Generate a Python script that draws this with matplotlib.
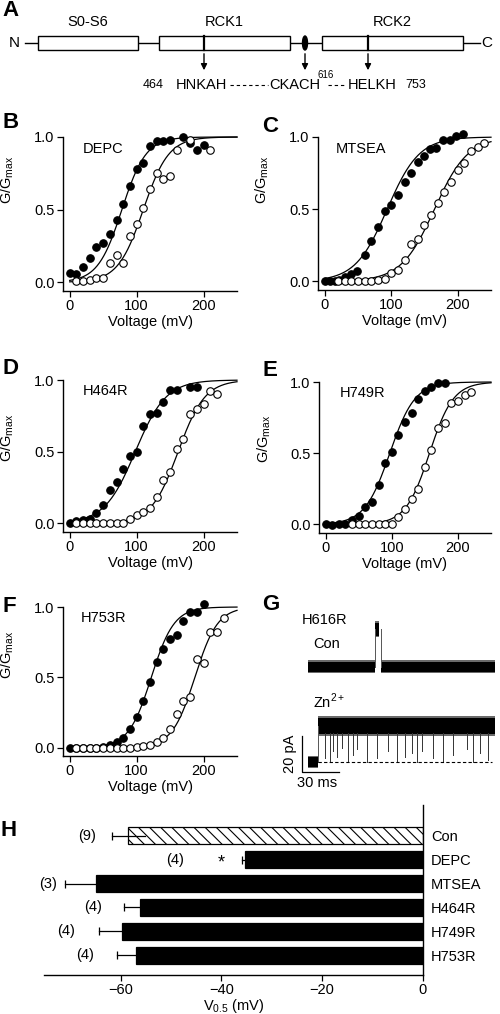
import matplotlib
matplotlib.use("Agg")
import matplotlib.pyplot as plt
import numpy as np
from matplotlib.patches import Rectangle, Ellipse

plt.rcParams['font.family'] = ['Liberation Sans', 'DejaVu Sans']
plt.rcParams['hatch.linewidth'] = 0.8
plt.rcParams['mathtext.fontset'] = 'custom'
plt.rcParams['mathtext.rm'] = 'Liberation Sans'

W, H = 500, 1014

# ---- panel A : domain schematic ----
dom_names = ['S0-S6', 'RCK1', 'RCK2']
dom_start = [38, 159, 322]
dom_end = [138, 290, 463]
site_x = [204, 305, 368]

# ---- panels B-F : G/Gmax vs voltage (filled / open circles) ----
b_v_fill = [0, 10, 20, 30, 40, 50, 60, 70, 80, 90, 100, 110, 120, 130, 140, 150, 170, 180, 190, 200]
b_g_fill = [0.064, 0.06, 0.105, 0.17, 0.245, 0.27, 0.33, 0.43, 0.54, 0.66, 0.78, 0.82, 0.94, 0.97, 0.97, 0.98, 1.00, 0.96, 0.91, 0.945]
b_v_open = [10, 20, 30, 40, 50, 60, 70, 80, 90, 100, 110, 120, 130, 140, 150, 160, 180, 210]
b_g_open = [0.007, 0.007, 0.014, 0.03, 0.03, 0.13, 0.19, 0.13, 0.32, 0.40, 0.51, 0.64, 0.75, 0.71, 0.73, 0.91, 0.98, 0.91]

c_v_fill = [0, 8, 16, 22, 30, 40, 48, 60, 70, 80, 90, 100, 110, 120, 130, 140, 150, 158, 168, 178, 188, 198, 208]
c_g_fill = [0, 0, 0.005, 0.01, 0.03, 0.05, 0.07, 0.18, 0.28, 0.377, 0.49, 0.53, 0.60, 0.69, 0.75, 0.83, 0.87, 0.92, 0.925, 0.98, 0.98, 1.01, 1.02]
c_v_open = [20, 30, 40, 50, 60, 70, 80, 90, 100, 110, 120, 130, 140, 150, 160, 170, 180, 190, 200, 210, 220, 230, 240]
c_g_open = [0, 0, 0, 0.005, 0.005, 0.005, 0.01, 0.015, 0.06, 0.08, 0.15, 0.26, 0.29, 0.39, 0.46, 0.54, 0.62, 0.69, 0.77, 0.82, 0.90, 0.93, 0.96]

d_v_fill = [0, 10, 20, 30, 40, 50, 60, 70, 80, 90, 100, 110, 120, 130, 140, 150, 160, 180, 190]
d_g_fill = [0, 0.016, 0.023, 0.03, 0.074, 0.125, 0.23, 0.29, 0.38, 0.47, 0.50, 0.68, 0.76, 0.77, 0.85, 0.93, 0.93, 0.95, 0.95]
d_v_open = [10, 20, 30, 40, 50, 60, 70, 80, 90, 100, 110, 120, 130, 140, 150, 160, 170, 180, 190, 200, 210, 220]
d_g_open = [0, 0, 0, 0, 0, 0, 0, 0, 0.03, 0.06, 0.08, 0.11, 0.185, 0.305, 0.356, 0.52, 0.59, 0.76, 0.80, 0.83, 0.92, 0.90]

e_v_fill = [0, 10, 20, 30, 40, 50, 60, 70, 80, 90, 100, 110, 120, 130, 140, 150, 160, 170, 180]
e_g_fill = [0, -0.005, 0, 0, 0.028, 0.06, 0.12, 0.16, 0.28, 0.43, 0.51, 0.63, 0.72, 0.785, 0.88, 0.94, 0.965, 0.99, 0.99]
e_v_open = [40, 50, 60, 70, 80, 90, 100, 110, 120, 130, 140, 150, 160, 170, 180, 190, 200, 210, 220]
e_g_open = [0, 0, 0, 0, 0, 0, 0, 0.05, 0.11, 0.18, 0.25, 0.405, 0.52, 0.68, 0.71, 0.85, 0.87, 0.91, 0.93]

f_v_fill = [0, 10, 20, 30, 40, 50, 60, 70, 80, 90, 100, 110, 120, 130, 140, 150, 160, 170, 180, 190, 200]
f_g_fill = [0, 0, 0, 0, 0, 0.007, 0.02, 0.04, 0.07, 0.13, 0.22, 0.33, 0.47, 0.61, 0.70, 0.77, 0.80, 0.90, 0.965, 0.965, 1.02]
f_v_open = [10, 20, 30, 40, 50, 60, 70, 80, 90, 100, 110, 120, 130, 140, 150, 160, 170, 180, 190, 200, 210, 220, 230]
f_g_open = [0, 0, 0, 0, 0, 0, 0, 0, 0, 0.005, 0.01, 0.02, 0.04, 0.07, 0.13, 0.24, 0.33, 0.36, 0.63, 0.60, 0.82, 0.82, 0.92]

# Boltzmann fit parameters (V half, slope) for filled / open
fits = {
    'B': [(78, 18), (110, 19)],
    'C': [(94, 24), (165, 25)],
    'D': [(98, 23), (162, 20)],
    'E': [(97, 19), (157, 18)],
    'F': [(122, 17), (187, 17)],
}

# ---- panel G : single channel records (ms, pA) ----
con_level = 52.8
con_open_amp = 21.0
con_t = [6.5, 158.0]
con_opening = [61.0, 65.5]
zn_closed_t = [6.5, 14.6]
zn_open_t = [14.6, 158.0]
zn_open_level = 20.0
zn_close_times = [20.3, 24.3, 26.8, 30, 34, 39, 43, 46.2, 54.3, 62.4, 71.4, 78.7, 85.2,
                  90.8, 94.9, 99, 107.9, 116, 124, 135.4, 140.3, 146, 152.5]
zn_close_depth = [2, 0, 6, 3, 8, 0, 4, 7, 0, 2, 6, 0, 3, 5, 0, 6, 2, 0, 4, 7, 0, 5, 1]

# ---- panel H : V0.5 bars ----
h_labels = ['Con', 'DEPC', 'MTSEA', 'H464R', 'H749R', 'H753R']
h_v50 = [-58.5, -35.3, -64.9, -56.1, -59.8, -56.9]
h_err = [3.3, 0.7, 6.2, 3.2, 4.6, 3.9]
h_n = ['(9)', '(4)', '(3)', '(4)', '(4)', '(4)']
h_n_x = [-66.7, -49.2, -74.5, -65.5, -70.9, -67.1]


def px_axes(fig, l, t, r, b):
    return fig.add_axes([l / W, 1 - b / H, (r - l) / W, (b - t) / H])


def letter(fig, s, x, y):
    fig.text(x / W, 1 - y / H, s, fontsize=16, fontweight='bold', ha='left', va='center')


fig = plt.figure(figsize=(5, 10.14), dpi=100)

# Panel A
axA = px_axes(fig, 0, 0, 500, 100)
axA.set_xlim(0, 500)
axA.set_ylim(100, 0)
axA.axis('off')
axA.plot([25, 480], [43, 43], color='k', lw=1, zorder=1)
for name, s, e in zip(dom_names, dom_start, dom_end):
    axA.add_patch(Rectangle((s, 36), e - s, 14, fc='white', ec='k', lw=1, zorder=2))
    axA.text((s + e) / 2, 22, name, ha='center', va='center', fontsize=10.5)
for x in [site_x[0], site_x[2]]:
    axA.plot([x, x], [36, 50], color='k', lw=1.6, zorder=3)
axA.add_patch(Ellipse((site_x[1], 43), 5, 14, fc='k', ec='k', zorder=3))
for x in site_x:
    axA.annotate('', xy=(x, 73), xytext=(x, 51),
                 arrowprops=dict(arrowstyle='-|>', color='k', lw=1, mutation_scale=9))
axA.text(14, 43, 'N', ha='center', va='center', fontsize=11)
axA.text(487, 43, 'C', ha='center', va='center', fontsize=11)
axA.text(153, 85, '464', ha='center', va='center', fontsize=9)
axA.text(201, 85, 'HNKAH', ha='center', va='center', fontsize=10.5)
axA.plot([230, 268], [85, 85], color='k', lw=0.8, dashes=(3, 2.6))
axA.text(295, 85, 'CKACH', ha='center', va='center', fontsize=10.5)
axA.text(326, 75, '616', ha='center', va='center', fontsize=7)
axA.plot([328, 346], [85, 85], color='k', lw=0.8, dashes=(3, 2.6))
axA.text(372, 85, 'HELKH', ha='center', va='center', fontsize=10.5)
axA.text(416, 85, '753', ha='center', va='center', fontsize=9)
letter(fig, 'A', 2, 10)


def gv_panel(box, vf, gf, vo, go, fit, name, name_x, ylab_y):
    ax = px_axes(fig, *box)
    vv = np.linspace(0, 250, 300)
    for vh, k in fit:
        ax.plot(vv, 1 / (1 + np.exp(-(vv - vh) / k)), color='k', lw=0.9, zorder=2, clip_on=False)
    ax.plot(vf, gf, 'o', ms=5.4, mfc='k', mec='k', mew=0.8, clip_on=False, zorder=3)
    ax.plot(vo, go, 'o', ms=5.4, mfc='white', mec='k', mew=0.8, clip_on=False, zorder=4)
    ax.set_xlim(-10, 250)
    ax.set_ylim(-0.06, 1.0)
    ax.set_xticks([0, 100, 200])
    ax.set_yticks([0, 0.5, 1.0])
    ax.set_yticklabels(['0.0', '0.5', '1.0'])
    ax.spines['top'].set_visible(False)
    ax.spines['right'].set_visible(False)
    for sp in ['left', 'bottom']:
        ax.spines[sp].set_linewidth(1)
    ax.tick_params(direction='out', length=4, width=0.9, labelsize=10.5, pad=2)
    ax.set_xlabel('Voltage (mV)', fontsize=10.5, labelpad=1)
    ax.set_ylabel('G/G$_{\\mathrm{max}}$', fontsize=10.5)
    ax.yaxis.set_label_coords(-0.27, ylab_y)
    ax.text(name_x, 0.92, name, ha='left', va='center', fontsize=10.5)
    return ax


gv_panel((63, 137, 237, 291), b_v_fill, b_g_fill, b_v_open, b_g_open, fits['B'], 'DEPC', 20, 0.72)
gv_panel((318, 137, 491, 290), c_v_fill, c_g_fill, c_v_open, c_g_open, fits['C'], 'MTSEA', 16, 0.72)
gv_panel((63, 380, 237, 532), d_v_fill, d_g_fill, d_v_open, d_g_open, fits['D'], 'H464R', 20, 0.62)
gv_panel((319, 382, 491, 533), e_v_fill, e_g_fill, e_v_open, e_g_open, fits['E'], 'H749R', 21, 0.62)
gv_panel((63, 607, 237, 756), f_v_fill, f_g_fill, f_v_open, f_g_open, fits['F'], 'H753R', 17, 0.68)
letter(fig, 'B', 3, 123)
letter(fig, 'C', 262, 127)
letter(fig, 'D', 3, 369)
letter(fig, 'E', 262, 370)
letter(fig, 'F', 3, 606)
letter(fig, 'G', 262, 605)

# Panel G
axG = px_axes(fig, 280, 600, 500, 800)
axG.set_xlim(-16.2, 162.2)
axG.set_ylim(-21.1, 90)
axG.axis('off')


def band(ax, t0, t1, level, half):
    ax.fill_between([t0, t1], level - half * 1.2, level + half * 1.2, color='#6a6a6a', lw=0)
    ax.fill_between([t0, t1], level - half, level + half, color='k', lw=0)


# control record with one brief opening
band(axG, con_t[0], con_opening[0], con_level, 3.0)
band(axG, con_opening[1], con_t[1], con_level, 3.0)
band(axG, con_opening[0], con_opening[1] - 1.2, con_level + con_open_amp, 3.6)
for t in con_opening:
    axG.plot([t, t], [con_level, con_level + con_open_amp], color='#555555', lw=0.7)
# Zn2+ record
band(axG, zn_closed_t[0], zn_closed_t[1], 0, 3.0)
axG.plot([zn_closed_t[1]] * 2, [0, zn_open_level], color='#555555', lw=0.7)
band(axG, zn_open_t[0], zn_open_t[1], zn_open_level, 4.5)
for t, d in zip(zn_close_times, zn_close_depth):
    axG.plot([t, t], [d, zn_open_level - 4], color='#333333', lw=0.7)
axG.plot([zn_open_t[0], 155.7], [0, 0], color='k', lw=0.8, dashes=(3, 2))
# scale bars
axG.plot([1.4, 1.4, 31.4], [14.4, -5.6, -5.6], color='k', lw=0.9)
axG.text(-8.1, 4.5, '20 pA', rotation=90, ha='center', va='center', fontsize=10.5)
axG.text(14.0, -11.9, '30 ms', ha='center', va='center', fontsize=10.5)
axG.text(1.6, 78.9, 'H616R', ha='left', va='center', fontsize=10.5)
axG.text(10.5, 65.6, 'Con', ha='left', va='center', fontsize=10.5)
axG.text(10.8, 33.5, 'Zn$^{2+}$', ha='left', va='center', fontsize=10.5)

# Panel H
axH = px_axes(fig, 44.3, 805, 422.7, 975)
ypos = np.arange(len(h_labels))
for i, (v, e) in enumerate(zip(h_v50, h_err)):
    if i == 0:
        axH.barh(i, v, height=0.73, left=0, color='white', edgecolor='k', lw=0.9, hatch='\\\\\\', zorder=2)
    else:
        axH.barh(i, v, height=0.73, left=0, color='k', edgecolor='k', lw=0.9, zorder=2)
    axH.plot([v - e, v + e], [i, i], color='k', lw=0.9, zorder=3)
    axH.plot([v - e], [i], marker='|', ms=6, mew=0.9, color='k', zorder=3)
for i, (s, x) in enumerate(zip(h_n, h_n_x)):
    axH.text(x, i, s, ha='center', va='center', fontsize=10.5)
axH.text(-40, 1.15, '*', ha='center', va='center', fontsize=13)
axH.set_xlim(-75.2, 0)
axH.set_ylim(5.82, -1.28)
axH.set_xticks([-60, -40, -20, 0])
axH.set_yticks(ypos)
axH.set_yticklabels(h_labels)
axH.yaxis.tick_right()
axH.spines['top'].set_visible(False)
axH.spines['left'].set_visible(False)
axH.spines['right'].set_linewidth(1)
axH.spines['bottom'].set_linewidth(1)
axH.tick_params(axis='x', direction='out', length=4, width=0.9, labelsize=10.5, pad=2)
axH.tick_params(axis='y', length=0, labelsize=10.5, pad=6)
axH.set_xlabel('V$_{0.5}$ (mV)', fontsize=10.5, labelpad=0)
letter(fig, 'H', 1, 830)

fig.savefig('out.png', dpi=100)
